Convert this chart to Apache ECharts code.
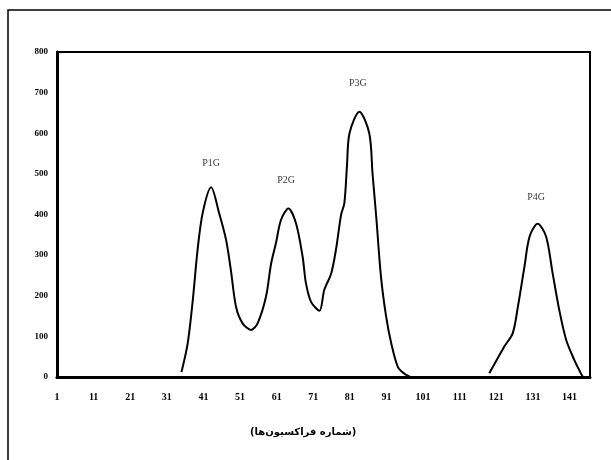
<!DOCTYPE html>
<html>
<head>
<meta charset="utf-8">
<script src="https://cdn.jsdelivr.net/npm/echarts@6/dist/echarts.min.js"></script>
<style>html,body{margin:0;padding:0;background:#fff}#c{width:611px;height:460px}</style>
</head>
<body>
<div id="c"></div>
<script>
// Fraction numbers and absorbance-like values
var fractionsA = [35, 36.7, 38.1, 39.4, 40.8, 43.1, 45.3, 47.2, 48.5, 49.9, 51.7, 54, 55.8, 58.1, 59.5, 60.8, 62.2, 64.2, 66.3, 68.1, 69, 70.4, 72.7, 74, 75.9, 77.2, 78.6, 79.5, 80.2, 80.9, 83.6, 86.3, 87.2, 88.2, 89.5, 90.9, 92.3, 94.1, 95.9, 97.5];
var valuesA    = [12, 83, 190, 313, 404, 467, 403, 337, 263, 173, 132, 116, 132, 198, 280, 329, 387, 415, 378, 296, 231, 185, 163, 214, 255, 313, 399, 428, 518, 600, 653, 600, 500, 395, 247, 149, 83, 25, 8, 0];
var fractionsB = [119.1, 123.2, 125.5, 126.9, 128.7, 130.1, 132.3, 134.6, 136.4, 138.2, 140.1, 142.3, 144.1, 144.7];
var valuesB    = [9, 75, 108, 173, 272, 346, 377, 346, 255, 165, 91, 42, 9, 0];
var peakNames     = ['P1G', 'P2G', 'P3G', 'P4G'];
var peakFractions = [43.1, 63.6, 83.2, 131.9];
var peakLabelY    = [527, 483, 724, 441];
var xTickLabels = ['1','11','21','31','41','51','61','71','81','91','101','111','121','131','141'];
var yTickLabels = ['0','100','200','300','400','500','600','700','800'];
var xTitle = '(شماره فراکسیون‌ها)';

function pairs(xs, ys){ return xs.map(function(x,i){ return [x-1, ys[i]]; }); }

var chart = echarts.init(document.getElementById('c'), null, {renderer:'canvas'});
chart.setOption({
  animation:false,
  backgroundColor:'#fff',
  grid:{left:57, top:52, right:21, bottom:83, show:true, borderColor:'#000', borderWidth:2, backgroundColor:'transparent'},
  xAxis:{type:'value', min:0, max:145.6, interval:10,
    axisLine:{show:true, onZero:false, lineStyle:{color:'#000', width:3}},
    axisTick:{show:false}, splitLine:{show:false},
    axisLabel:{margin:15, color:'#000', fontFamily:'Liberation Serif', fontWeight:'bold', fontSize:10,
      formatter:function(v){ var i=Math.round(v/10); return xTickLabels[i]||''; }}
  },
  yAxis:{type:'value', min:0, max:800, interval:100,
    axisLine:{show:true, lineStyle:{color:'#000', width:3}},
    axisTick:{show:false}, splitLine:{show:false},
    axisLabel:{margin:9, color:'#000', fontFamily:'Liberation Serif', fontWeight:'bold', fontSize:9,
      formatter:function(v){ return yTickLabels[Math.round(v/100)]; }}
  },
  series:[
    {type:'line', data:pairs(fractionsA, valuesA), smooth:0.3, symbol:'none', lineStyle:{color:'#000', width:2}},
    {type:'line', data:pairs(fractionsB, valuesB), smooth:0.3, symbol:'none', lineStyle:{color:'#000', width:2}},
    {type:'scatter', symbolSize:0, data:peakNames.map(function(n,i){ return {value:[peakFractions[i]-1, peakLabelY[i]], name:n}; }),
      label:{show:true, position:'inside', formatter:'{b}', color:'#000', fontFamily:'Liberation Serif', fontSize:10}}
  ],
  graphic:[
    {type:'rect', shape:{x:8, y:10, width:640, height:480}, style:{fill:'none', stroke:'#000', lineWidth:1.5}, silent:true},
    {type:'text', left:300-50, top:427, style:{text:xTitle, fill:'#000', font:'bold 10px "DejaVu Sans"', width:100, align:'center'}}
  ]
});
</script>
</body>
</html>
